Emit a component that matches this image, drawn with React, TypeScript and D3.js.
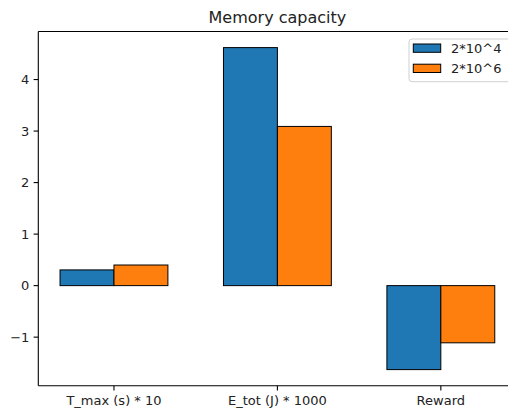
import React from "react";
import * as d3 from "d3";

const categories = ["T_max (s) * 10", "E_tot (J) * 1000", "Reward"];
const seriesNames = ["2*10^4", "2*10^6"];
const series1 = [0.305, 4.62, -1.63];
const series2 = [0.4, 3.09, -1.11];
const yTicks = [-1, 0, 1, 2, 3, 4];
const colors = ["#1f77b4", "#ff7f0e"];

const W = 508;
const H = 409;
const axLeft = 38.3;
const axRight = 516.5;
const axTop = 31.5;
const axBottom = 385.7;
const barW = 0.33;
const font = "DejaVu Sans, sans-serif";

export default function App() {
  const all = [...series1, ...series2, 0];
  const ymin = d3.min(all) as number;
  const ymax = d3.max(all) as number;
  const yr = ymax - ymin;
  const y = d3.scaleLinear().domain([ymin - 0.05 * yr, ymax + 0.05 * yr]).range([axBottom, axTop]);
  const xmin = -barW;
  const xmax = categories.length - 1 + barW;
  const xr = xmax - xmin;
  const x = d3.scaleLinear().domain([xmin - 0.05 * xr, xmax + 0.05 * xr]).range([axLeft, axRight]);
  const data = [series1, series2];

  return (
    <svg width={W} height={H} style={{ position: "absolute", left: 0, top: 0, background: "#fff" }} fontFamily={font}>
      <rect x={0} y={0} width={W} height={H} fill="#fff" />
      {data.map((s, si) =>
        s.map((v, i) => {
          const x0 = x(i + (si === 0 ? -barW : 0));
          const x1 = x(i + (si === 0 ? 0 : barW));
          const ya = y(Math.max(0, v));
          const yb = y(Math.min(0, v));
          return (
            <rect key={`${si}-${i}`} x={x0} y={ya} width={x1 - x0} height={yb - ya} fill={colors[si]} stroke="#000" strokeWidth={1} />
          );
        })
      )}
      <line x1={axLeft} x2={axLeft} y1={axTop} y2={axBottom} stroke="#000" strokeWidth={1.1} />
      <line x1={axLeft} x2={axRight} y1={axBottom} y2={axBottom} stroke="#000" strokeWidth={1.1} />
      <line x1={axLeft} x2={axRight} y1={axTop} y2={axTop} stroke="#000" strokeWidth={1.1} />
      <line x1={axRight} x2={axRight} y1={axTop} y2={axBottom} stroke="#000" strokeWidth={1.1} />
      {yTicks.map((t) => (
        <g key={t}>
          <line x1={axLeft - 4.7} x2={axLeft} y1={y(t)} y2={y(t)} stroke="#000" strokeWidth={1.1} />
          <text x={axLeft - 9} y={y(t)} dy="0.36em" textAnchor="end" fontSize={13} fill="#222">
            {t < 0 ? "\u2212" + Math.abs(t) : t}
          </text>
        </g>
      ))}
      {categories.map((c, i) => (
        <g key={c}>
          <line x1={x(i)} x2={x(i)} y1={axBottom} y2={axBottom + 4.7} stroke="#000" strokeWidth={1.1} />
          <text x={x(i)} y={405.3} textAnchor="middle" fontSize={13} fill="#222">
            {c}
          </text>
        </g>
      ))}
      <text x={(axLeft + axRight) / 2} y={23} textAnchor="middle" fontSize={16} fill="#222">
        Memory capacity
      </text>
      <rect x={409} y={39} width={102} height={42.7} rx={3} fill="#fff" fillOpacity={0.8} stroke="#d0d0d0" strokeWidth={1} />
      {seriesNames.map((n, i) => (
        <g key={n}>
          <rect x={413.3} y={44 + i * 20.2} width={27.4} height={8.3} fill={colors[i]} stroke="#000" strokeWidth={1} />
          <text x={451} y={52.9 + i * 20.2} fontSize={13} fill="#222">
            {n}
          </text>
        </g>
      ))}
    </svg>
  );
}
